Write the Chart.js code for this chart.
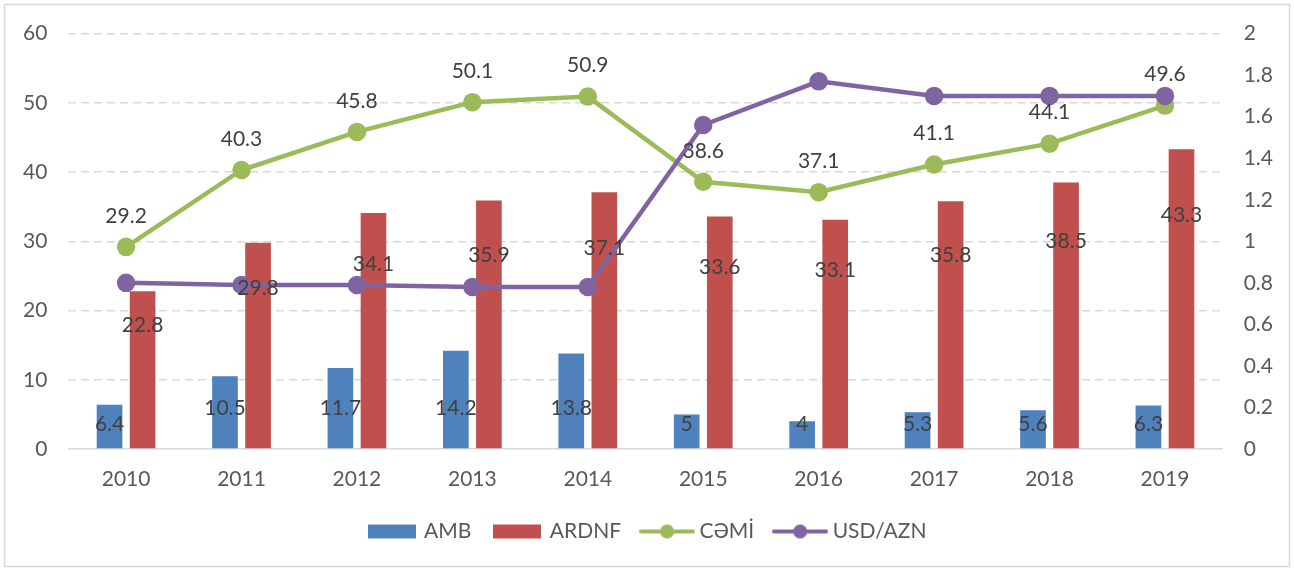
<!DOCTYPE html>
<html>
<head>
<meta charset="utf-8">
<script src="https://cdn.jsdelivr.net/npm/chart.js@4.4.0/dist/chart.umd.min.js"></script>
<style>
  body { margin: 0; background: #fff; }
</style>
</head>
<body>
<canvas id="chart" width="1294" height="571"></canvas>
<script>
var years = ['2010', '2011', '2012', '2013', '2014', '2015', '2016', '2017', '2018', '2019'];
var amb = [6.4, 10.5, 11.7, 14.2, 13.8, 5, 4, 5.3, 5.6, 6.3];
var ardnf = [22.8, 29.8, 34.1, 35.9, 37.1, 33.6, 33.1, 35.8, 38.5, 43.3];
var cemi = [29.2, 40.3, 45.8, 50.1, 50.9, 38.6, 37.1, 41.1, 44.1, 49.6];
var usdAzn = [0.80, 0.79, 0.79, 0.78, 0.78, 1.56, 1.77, 1.70, 1.70, 1.70];

var blue = '#4F81BD', red = '#C0504D', green = '#9BBB59', purple = '#8064A2';
var textGrey = '#595959';

// little canvases used as legend symbols (box for bars, line+dot for lines)
function swatch(color, isLine) {
  var c = document.createElement('canvas');
  c.width = isLine ? 56 : 48;
  c.height = 16;
  var g = c.getContext('2d');
  g.fillStyle = color;
  g.strokeStyle = color;
  if (isLine) {
    g.lineWidth = 4;
    g.lineCap = 'round';
    g.beginPath(); g.moveTo(2, 8); g.lineTo(54, 8); g.stroke();
    g.beginPath(); g.arc(28, 8, 7, 0, Math.PI * 2); g.fill();
  } else {
    g.fillRect(0, 1, 48, 14);
  }
  return c;
}

var frame = {
  id: 'frame',
  beforeDraw: function(chart) {
    var ctx = chart.ctx;
    ctx.save();
    ctx.fillStyle = '#fff';
    ctx.fillRect(0, 0, chart.width, chart.height);
    ctx.strokeStyle = '#d9d9d9';
    ctx.lineWidth = 1.5;
    ctx.strokeRect(4.5, 4.5, 1285, 562);
    ctx.restore();
  }
};

var valueLabels = {
  id: 'valueLabels',
  afterDatasetsDraw: function(chart) {
    var ctx = chart.ctx;
    ctx.save();
    ctx.font = '21px Lato';
    ctx.fillStyle = '#404040';
    ctx.textAlign = 'center';
    ctx.textBaseline = 'middle';
    chart.data.datasets.forEach(function(ds, i) {
      if (ds.yAxisID === 'y1') return;
      chart.getDatasetMeta(i).data.forEach(function(el, j) {
        var y;
        if (ds.type === 'line') {
          y = el.y - 31;
        } else {
          var h = el.base - el.y;
          y = i === 0 ? el.base - Math.max(24, Math.min(h * 0.55, 40)) : el.base - h * 0.78;
        }
        ctx.fillText(String(ds.data[j]), el.x, y);
      });
    });
    ctx.restore();
  }
};

new Chart('chart', {
  type: 'bar',
  data: {
    labels: years,
    datasets: [
      { label: 'AMB', data: amb, backgroundColor: blue, order: 2, yAxisID: 'y',
        categoryPercentage: 0.573, barPercentage: 0.776 },
      { label: 'ARDNF', data: ardnf, backgroundColor: red, order: 2, yAxisID: 'y',
        categoryPercentage: 0.573, barPercentage: 0.776 },
      { label: 'CƏMİ', type: 'line', data: cemi, borderColor: green, backgroundColor: green,
        borderWidth: 4.5, pointRadius: 7, pointHoverRadius: 7, tension: 0, order: 1, yAxisID: 'y' },
      { label: 'USD/AZN', type: 'line', data: usdAzn, borderColor: purple, backgroundColor: purple,
        borderWidth: 4.5, pointRadius: 7, pointHoverRadius: 7, tension: 0, order: 0, yAxisID: 'y1' }
    ]
  },
  options: {
    responsive: false,
    animation: false,
    layout: { padding: { left: 2, right: 0, top: 31, bottom: 19 } },
    scales: {
      x: {
        grid: { display: false, drawTicks: false },
        border: { display: true, color: '#d9d9d9', width: 1.5 },
        ticks: { color: textGrey, font: { family: 'Lato', size: 21 }, padding: 18 },
        afterFit: function(s) { s.height = 48; }
      },
      y: {
        position: 'left',
        min: 0, max: 60,
        ticks: { stepSize: 10, color: textGrey, font: { family: 'Lato', size: 21 }, padding: 21 },
        grid: {
          drawTicks: false,
          color: function(c) { return c.tick && c.tick.value === 0 ? 'rgba(0,0,0,0)' : '#d9d9d9'; },
          lineWidth: 1.5
        },
        border: { display: false, dash: [8, 5] }
      },
      y1: {
        position: 'right',
        min: 0, max: 2,
        ticks: {
          stepSize: 0.2, color: textGrey, font: { family: 'Lato', size: 21 }, padding: 21,
          callback: function(v) { return String(+v.toFixed(1)); }
        },
        grid: { display: false, drawTicks: false },
        border: { display: false }
      }
    },
    plugins: {
      tooltip: { enabled: false },
      legend: {
        position: 'bottom',
        labels: {
          usePointStyle: true,
          pointStyleWidth: 44,
          padding: 24,
          color: textGrey,
          font: { family: 'Lato', size: 21 },
          generateLabels: function(chart) {
            return chart.data.datasets.map(function(ds, i) {
              return {
                text: ds.label,
                datasetIndex: i,
                fontColor: textGrey,
                pointStyle: swatch(ds.borderColor || ds.backgroundColor, ds.type === 'line'),
                fillStyle: 'rgba(0,0,0,0)',
                strokeStyle: 'rgba(0,0,0,0)',
                lineWidth: 0,
                hidden: false
              };
            });
          }
        }
      }
    }
  },
  plugins: [frame, valueLabels]
});
</script>
</body>
</html>
